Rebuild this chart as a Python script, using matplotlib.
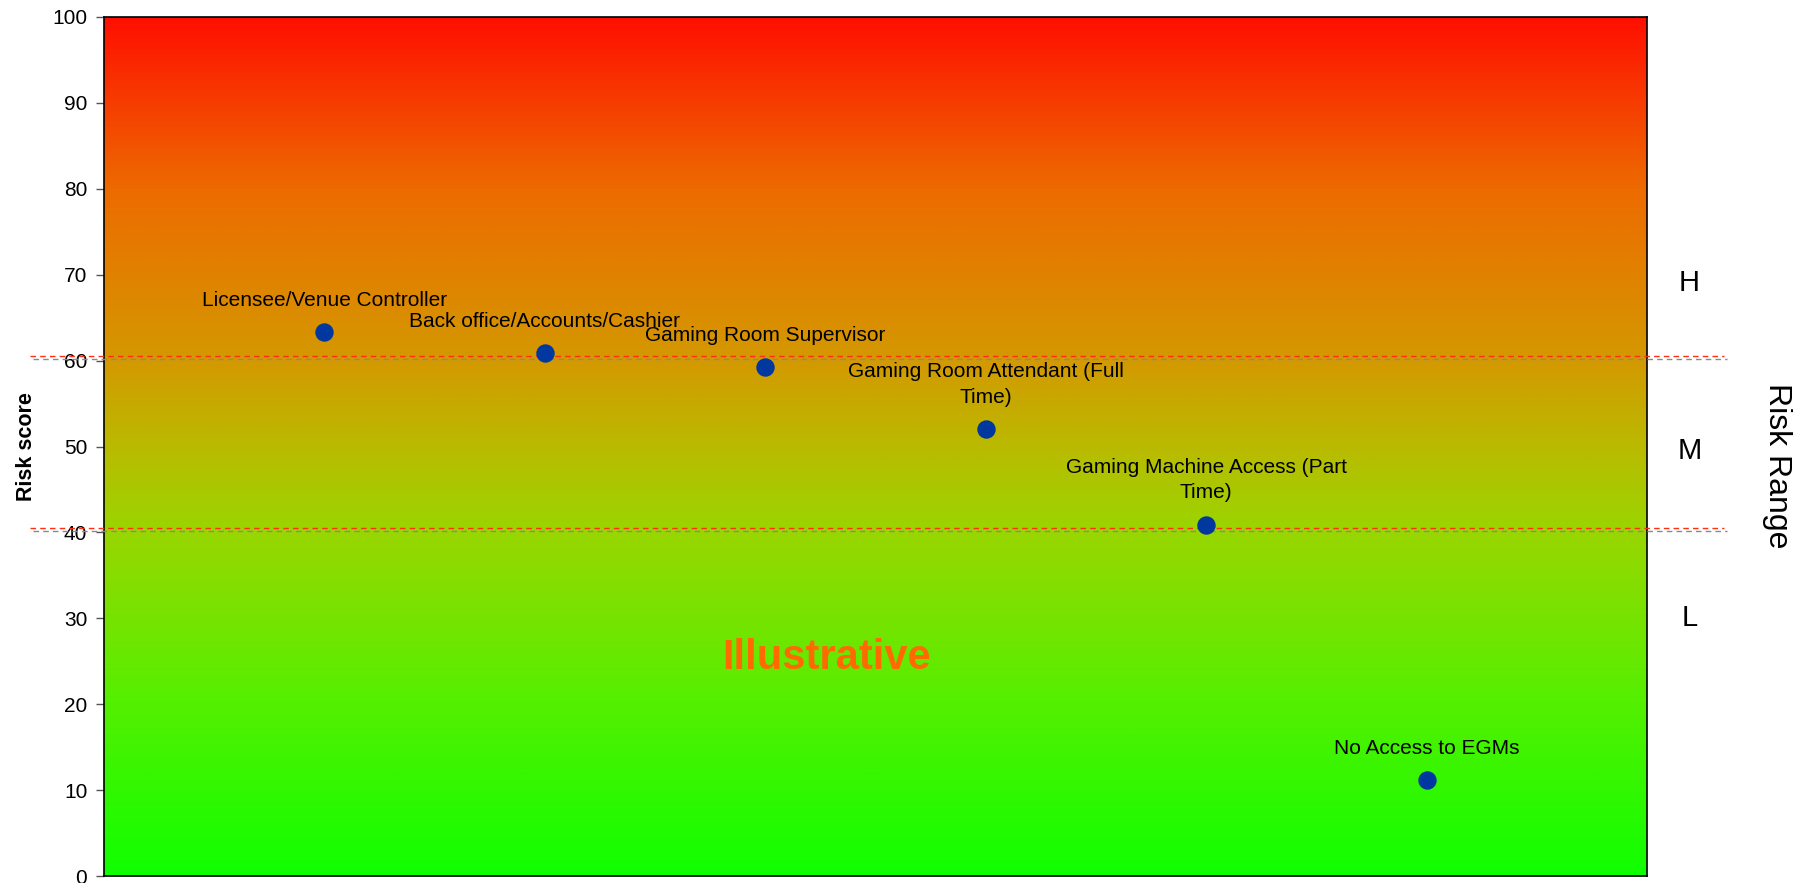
import numpy as np
import matplotlib
matplotlib.use("Agg")
import matplotlib.pyplot as plt
from matplotlib.colors import LinearSegmentedColormap

plt.rcParams['font.family'] = ['Liberation Sans', 'DejaVu Sans']

# Roles and their risk scores
roles = [
    "Licensee/Venue Controller",
    "Back office/Accounts/Cashier",
    "Gaming Room Supervisor",
    "Gaming Room Attendant (Full\nTime)",
    "Gaming Machine Access (Part\nTime)",
    "No Access to EGMs",
]
scores = [63.3, 60.9, 59.2, 52.0, 40.9, 11.2]

# Band boundaries and band labels
band_limits = [40.3, 60.3]
band_names = ["L", "M", "H"]
band_label_y = [30, 49.5, 69]

fig = plt.figure(figsize=(18.07, 8.83), dpi=100)
ax = fig.add_axes([104 / 1807, 1 - 876 / 883, 1543 / 1807, 859 / 883])

# background gradient: green at 0 through olive/orange to red at 100
cmap = LinearSegmentedColormap.from_list("risk", [
    (0.00, (0.06, 1.00, 0.00)),
    (0.20, (0.33, 0.94, 0.00)),
    (0.40, (0.60, 0.84, 0.00)),
    (0.50, (0.73, 0.73, 0.00)),
    (0.60, (0.83, 0.60, 0.00)),
    (0.80, (0.93, 0.42, 0.00)),
    (1.00, (1.00, 0.06, 0.00)),
])
grad = np.linspace(0, 1, 512).reshape(-1, 1)
ax.imshow(grad, cmap=cmap, origin="lower", aspect="auto",
          extent=[0, 7, 0, 100], zorder=0)

ax.set_xlim(0, 7)
ax.set_ylim(0, 100)
ax.set_xticks([])
ax.set_yticks(np.arange(0, 101, 10))
ax.tick_params(axis='y', labelsize=15, length=6, width=1, color='#555555', pad=6)
for s in ax.spines.values():
    s.set_linewidth(1.2)
    s.set_color('black')

x = np.arange(1, len(roles) + 1)
ax.scatter(x, scores, s=150, color='#0038A0', zorder=5, clip_on=False)

for xi, yi, name in zip(x, scores, roles):
    ax.annotate(name, (xi, yi), xytext=(0, 16), textcoords='offset points',
                ha='center', va='bottom', fontsize=15, color='black',
                linespacing=1.45, zorder=6)

# band boundary lines, extending beyond the plot area
for lim in band_limits:
    ax.axhline(lim + 0.25, xmin=-0.048, xmax=1.05, color='#FF3010', lw=1,
               ls=(0, (4, 3)), clip_on=False, zorder=4)
    ax.axhline(lim - 0.1, xmin=-0.046, xmax=1.052, color='#8A8A8A', lw=1,
               ls=(0, (4, 3)), clip_on=False, zorder=3)

for name, yb in zip(band_names, band_label_y):
    ax.text(1.0276, yb, name, transform=ax.get_yaxis_transform(),
            ha='center', va='center', fontsize=21)

ax.text(1.0843, 47.8, "Risk Range", transform=ax.get_yaxis_transform(),
        rotation=-90, ha='center', va='center', fontsize=23)

ax.set_ylabel("Risk score", fontsize=15.5, fontweight='bold', labelpad=11)

ax.text(3.28, 25.4, "Illustrative", ha='center', va='center',
        fontsize=30, fontweight='bold', color='#FF6A00', zorder=6)

fig.savefig("out.png", dpi=100)
